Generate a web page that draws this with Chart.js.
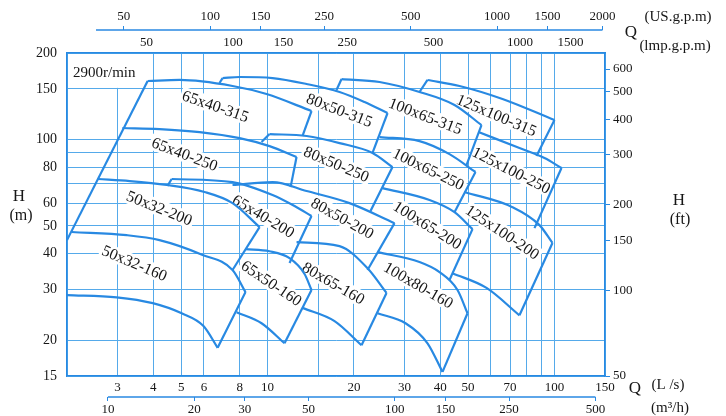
<!DOCTYPE html>
<html>
<head>
<meta charset="utf-8">
<script src="https://cdn.jsdelivr.net/npm/chart.js@4"></script>
<style>
html, body { margin: 0; padding: 0; background: #fff; }
#wrap { width: 726px; height: 416px; position: relative; }
</style>
</head>
<body>
<div id="wrap"><canvas id="cnv"></canvas></div>
<script>
// axis values
var qGrid = [2, 3, 4, 5, 6, 8, 10, 15, 20, 30, 40, 50, 60, 70, 80, 90, 100, 150];   // L/s
var qLabels = [3, 4, 5, 6, 8, 10, 20, 30, 40, 50, 70, 100, 150];
var hGrid = [15, 20, 30, 40, 50, 60, 70, 80, 90, 100, 150, 200];                // m
var hLabels = [15, 20, 30, 40, 50, 60, 80, 100, 150, 200];
var usTicks = [50, 100, 150, 250, 500, 1000, 1500, 2330];   // last label is printed at the axis end
var usLabels = ['50', '100', '150', '250', '500', '1000', '1500', '2000'];
var impTicks = [50, 100, 150, 250, 500, 1000, 1500];
var m3hTicks = [10, 20, 30, 50, 100, 150, 250, 500];
var ftTicks = [50, 100, 150, 200, 300, 400, 500, 600];

// pump ranges: [foot of left edge (or null), top curve ..., foot of right edge]  (Q L/s, H m)
var p65x40_315 = [[2.0, 44.6], [3.82, 159.8], [4.94, 161.1], [7.55, 153.5], [9.92, 143.9], [14.23, 125.6], [13.24, 102.8]];
var p80x50_315 = [[6.80, 157.2], [6.97, 163.6], [7.99, 165.0], [10.41, 163.6], [13.68, 156.0], [17.82, 146.3], [21.78, 135.0], [26.19, 123.6], [23.22, 89.7]];
var p100x65_315 = [[17.39, 148.6], [18.11, 162.3], [24.56, 158.5], [33.85, 146.3], [44.83, 131.8], [55.67, 112.2], [49.36, 81.4]];
var p125x100_315 = [[33.85, 146.3], [36.10, 161.1], [46.67, 153.5], [65.89, 138.3], [100, 116.8], [86.56, 87.5]];
var p65x40_250 = [null, [3.12, 109.6], [4.20, 108.7], [5.80, 106.1], [7.99, 101.1], [10.16, 94.8], [12.62, 86.8], [12.03, 68.2]];
var p80x50_250 = [[9.53, 97.9], [10.16, 104.4], [13.68, 102.8], [17.82, 97.1], [23.22, 89.7], [27.26, 80.1], [22.85, 56.3]];
var p100x65_250 = [null, [24.56, 101.9], [33.85, 98.7], [43.06, 88.9], [53.05, 77.0], [44.83, 55.8]];
var p125x100_250 = [null, [54.35, 106.1], [75.51, 93.3], [92.29, 86.1], [105.8, 79.5], [85.18, 49.1]];
var p50x32_200 = [null, [2.56, 72.8], [3.31, 71.6], [4.45, 69.4], [6.03, 65.6], [7.55, 60.0], [9.38, 49.5], [7.55, 35.1]];
var p65x40_200 = [[4.48, 68.8], [4.63, 72.8], [7.55, 71.0], [10.41, 64.0], [12.42, 58.6], [14.23, 54.1], [11.93, 37.1]];
var p80x50_200 = [null, [7.55, 69.4], [10.41, 71.0], [13.68, 66.1], [19.30, 60.0], [27.70, 51.1], [22.31, 35.1]];
var p100x65_200 = [null, [25.15, 67.7], [36.69, 61.5], [44.83, 55.8], [51.80, 48.7], [43.06, 32.4]];
var p125x100_200 = [null, [48.57, 65.6], [71.39, 58.1], [88.66, 50.3], [98.4, 43.6], [75.51, 24.4]];
var p50x32_160 = [null, [2.08, 47.6], [3.23, 46.4], [4.20, 44.6], [5.94, 39.6], [7.55, 35.1], [8.38, 29.4], [6.70, 18.8]];
var p65x50_160 = [null, [8.38, 41.5], [10.16, 40.8], [11.93, 38.6], [13.46, 34.0], [14.23, 29.9], [11.46, 19.5]];
var p80x65_160 = [null, [12.62, 43.9], [17.82, 42.5], [22.31, 35.6], [25.98, 29.2], [21.26, 19.2]];
var p100x80_160 = [null, [24.17, 40.5], [33.85, 37.4], [39.75, 34.5], [45.92, 29.9], [49.77, 24.8], [40.72, 15.5]];

// lower (small impeller) curves that are visible
var b50x32_160 = [[2.0, 28.7], [2.98, 28.2], [3.98, 26.9], [5.02, 24.8], [5.98, 22.4], [6.70, 18.8]];
var b65x50_160 = [[7.80, 25.0], [9.53, 22.9], [11.46, 19.5]];
var b80x65_160 = [[13.24, 25.9], [17.12, 23.3], [21.26, 19.2]];
var b100x80_160 = [[24.17, 24.8], [30.26, 22.9], [36.10, 19.5], [40.72, 15.5]];
var b125x100_200 = [[44.12, 34.2], [57.96, 30.4], [75.51, 24.4]];

// model names: text, Q, H, angle
var tileLabels = [
  ['65x40-315', 6.59, 130.7, 19],
  ['80x50-315', 17.82, 126.6, 21],
  ['100x65-315', 35.52, 120.7, 21],
  ['125x100-315', 62.8, 121.6, 23],
  ['65x40-250', 5.14, 88.9, 21],
  ['80x50-250', 17.39, 82.1, 23],
  ['100x65-250', 36.39, 78.9, 26],
  ['125x100-250', 70.82, 78.2, 27],
  ['50x32-200', 4.20, 57.7, 22],
  ['65x40-200', 9.68, 54.1, 31],
  ['80x50-200', 18.25, 53.2, 29],
  ['100x65-200', 36.10, 50.3, 32],
  ['125x100-200', 65.89, 47.6, 34],
  ['50x32-160', 3.44, 37.1, 23],
  ['65x50-160', 10.33, 31.6, 34],
  ['80x65-160', 16.98, 31.6, 30],
  ['100x80-160', 33.58, 31.1, 30]
];

var LINE = '#2889e2';
var GRID = '#55aaea';
var TXT = '#161616';

Chart.defaults.font.family = "'Liberation Serif', 'Times New Roman', serif";
Chart.defaults.font.size = 13;
Chart.defaults.color = TXT;

var datasets = [];
function addLine(a, curved) {
  datasets.push({
    data: a.map(function(p) { return {x: p[0], y: p[1]}; }),
    showLine: true,
    borderColor: LINE,
    borderWidth: 2.2,
    pointRadius: 0,
    fill: false,
    tension: 0,
    cubicInterpolationMode: curved ? 'monotone' : 'default'
  });
}
var tiles = [p65x40_315, p80x50_315, p100x65_315, p125x100_315,
  p65x40_250, p80x50_250, p100x65_250, p125x100_250,
  p50x32_200, p65x40_200, p80x50_200, p100x65_200, p125x100_200,
  p50x32_160, p65x50_160, p80x65_160, p100x80_160];
tiles.forEach(function(t) {
  var n = t.length;
  if (t[0]) addLine([t[0], t[1]], false);
  addLine(t.slice(1, n - 1), true);
  addLine([t[n - 2], t[n - 1]], false);
});
[b50x32_160, b65x50_160, b80x65_160, b100x80_160, b125x100_200].forEach(function(b) {
  addLine(b, true);
});

function fixTicks(vals) {
  return function(scale) {
    scale.ticks = vals.map(function(v) { return {value: v}; });
  };
}

var textPlugin = {
  id: 'texts',
  beforeDatasetsDraw: function(chart) {
    var ctx = chart.ctx, xs = chart.scales.x, ys = chart.scales.y, a = chart.chartArea;
    ctx.save();
    // speed box in the corner
    ctx.fillStyle = '#fff';
    ctx.fillRect(a.left + 1, a.top + 1, xs.getPixelForValue(3.75) - a.left - 1, ys.getPixelForValue(150) - a.top - 2);
    ctx.fillStyle = TXT;
    ctx.font = "15px 'Liberation Serif'";
    ctx.textBaseline = 'middle';
    ctx.fillText('2900r/min', a.left + 6, ys.getPixelForValue(170));

    ctx.font = "16px 'Liberation Serif'";
    tileLabels.forEach(function(l) {
      var px = xs.getPixelForValue(l[1]), py = ys.getPixelForValue(l[2]);
      ctx.save();
      ctx.translate(px, py);
      ctx.rotate(l[3] * Math.PI / 180);
      var w = ctx.measureText(l[0]).width;
      ctx.fillStyle = '#fff';
      ctx.fillRect(-w / 2 - 2, -8, w + 4, 16);
      ctx.fillStyle = TXT;
      ctx.textAlign = 'center';
      ctx.textBaseline = 'middle';
      ctx.fillText(l[0], 0, 1);
      ctx.restore();
    });
    ctx.restore();
  },
  afterDraw: function(chart) {
    var ctx = chart.ctx, us = chart.scales.xus, m3 = chart.scales.xm3;
    ctx.save();
    ctx.strokeStyle = LINE;
    ctx.lineWidth = 1.5;
    ctx.beginPath();
    ctx.moveTo(us.getPixelForValue(40), us.bottom);
    ctx.lineTo(us.getPixelForValue(2330), us.bottom);
    ctx.stroke();
    ctx.beginPath();
    ctx.moveTo(m3.getPixelForValue(10), m3.top);
    ctx.lineTo(m3.getPixelForValue(500), m3.top);
    ctx.stroke();

    ctx.fillStyle = TXT;
    ctx.textAlign = 'center';
    ctx.textBaseline = 'middle';
    ctx.font = "17px 'Liberation Serif'";
    ctx.fillText('H', 19, 197);
    ctx.fillText('H', 679, 201);
    ctx.fillText('Q', 631, 33);
    ctx.fillText('Q', 635, 389);
    ctx.font = "16px 'Liberation Serif'";
    ctx.fillText('(m)', 21, 216);
    ctx.fillText('(ft)', 680, 220);
    ctx.font = "15px 'Liberation Serif'";
    ctx.fillText('(US.g.p.m)', 678, 17);
    ctx.fillText('(lmp.g.p.m)', 675, 46);
    ctx.fillText('(L /s)', 668, 385);
    ctx.fillText('(m\u00b3/h)', 670, 408);
    ctx.restore();
  }
};

new Chart(document.getElementById('cnv').getContext('2d'), {
  type: 'scatter',
  data: { datasets: datasets },
  options: {
    responsive: true,
    maintainAspectRatio: false,
    animation: false,
    layout: { padding: 0 },
    plugins: { legend: { display: false }, tooltip: { enabled: false } },
    scales: {
      x: {
        type: 'logarithmic', position: 'bottom', min: 2, max: 150, weight: 0,
        afterBuildTicks: fixTicks(qGrid),
        afterFit: function(s) { s.height = 21; },
        ticks: { autoSkip: false, maxRotation: 0, padding: 4,
          callback: function(v) { return qLabels.indexOf(v) >= 0 ? String(v) : ''; } },
        grid: { color: GRID, lineWidth: 1, drawTicks: false },
        border: { color: LINE, width: 1.5 }
      },
      xm3: {
        type: 'logarithmic', position: 'bottom', min: 7.2, max: 540, weight: 1,
        afterBuildTicks: fixTicks(m3hTicks),
        afterFit: function(s) { s.height = 19; },
        ticks: { autoSkip: false, maxRotation: 0, padding: 1,
          callback: function(v) { return String(v); } },
        grid: { drawOnChartArea: false, tickLength: 4, color: LINE },
        border: { display: false }
      },
      ximp: {
        type: 'logarithmic', position: 'top', min: 2 * 13.198, max: 150 * 13.198, weight: 0,
        afterBuildTicks: fixTicks(impTicks),
        afterFit: function(s) { s.height = 23; },
        ticks: { autoSkip: false, maxRotation: 0, padding: 3,
          callback: function(v) { return String(v); } },
        grid: { drawOnChartArea: false, drawTicks: false },
        border: { color: LINE, width: 1.5 }
      },
      xus: {
        type: 'logarithmic', position: 'top', min: 2 * 15.8503, max: 150 * 15.8503, weight: 1,
        afterBuildTicks: fixTicks(usTicks),
        afterFit: function(s) { s.height = 30; },
        ticks: { autoSkip: false, maxRotation: 0, padding: 2,
          callback: function(v, i) { return usLabels[i]; } },
        grid: { drawOnChartArea: false, tickLength: 4, color: LINE },
        border: { display: false }
      },
      y: {
        type: 'logarithmic', position: 'left', min: 15, max: 200,
        afterBuildTicks: fixTicks(hGrid),
        afterFit: function(s) { s.width = 67; },
        ticks: { autoSkip: false, padding: 10, font: { size: 14 },
          callback: function(v) { return hLabels.indexOf(v) >= 0 ? String(v) : ''; } },
        grid: { color: GRID, lineWidth: 1, drawTicks: false },
        border: { color: LINE, width: 1.5 }
      },
      yft: {
        type: 'logarithmic', position: 'right', min: 50, max: 683,
        afterBuildTicks: fixTicks(ftTicks),
        afterFit: function(s) { s.width = 121; },
        ticks: { autoSkip: false, padding: 3,
          callback: function(v) { return String(v); } },
        grid: { drawOnChartArea: false, tickLength: 5, color: LINE },
        border: { color: LINE, width: 1.5 }
      }
    }
  },
  plugins: [textPlugin]
});
</script>
</body>
</html>
